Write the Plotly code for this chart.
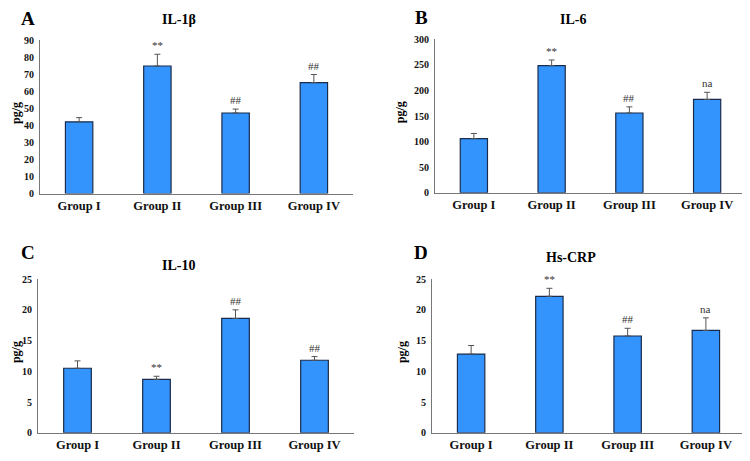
import plotly.graph_objects as go

groups = ["Group I", "Group II", "Group III", "Group IV"]

il1b_vals = [42.1, 74.9, 47.3, 65.1]
il1b_err = [2.5, 6.9, 2.3, 4.8]
il1b_marks = ["", "**", "##", "##"]

il6_vals = [106, 248.6, 156, 182.5]
il6_err = [10, 11, 12, 14]
il6_marks = ["", "**", "##", "na"]

il10_vals = [10.5, 8.7, 18.6, 11.8]
il10_err = [1.2, 0.5, 1.4, 0.6]
il10_marks = ["", "**", "##", "##"]

crp_vals = [12.8, 22.2, 15.75, 16.65]
crp_err = [1.4, 1.3, 1.25, 2.05]
crp_marks = ["", "**", "##", "na"]

panels = [
    dict(letter="A", title="IL-1β", vals=il1b_vals, err=il1b_err, marks=il1b_marks,
         yrange=[0, 90], dtick=10, xd=[40, 353], yd=[36, 193], ty=15, ly=14, yl=8),
    dict(letter="B", title="IL-6", vals=il6_vals, err=il6_err, marks=il6_marks,
         yrange=[0, 300], dtick=50, xd=[435, 746], yd=[35, 192.3], ty=15, ly=13, yl=392),
    dict(letter="C", title="IL-10", vals=il10_vals, err=il10_err, marks=il10_marks,
         yrange=[0, 25], dtick=5, xd=[38, 354], yd=[280.7, 438.3], ty=267, ly=253, yl=8),
    dict(letter="D", title="Hs-CRP", vals=crp_vals, err=crp_err, marks=crp_marks,
         yrange=[0, 25], dtick=5, xd=[432, 745], yd=[280.7, 438.3], ty=259, ly=253, yl=394),
]

# page has an 8px body margin; figure is sized so that it fills the 750x461 window
OFF = 8
W, H = 750 - OFF, 461 - OFF


def px_x(v):
    return (v - OFF) / W


def px_y(v):
    return 1 - (v - OFF) / H


FONT = "Liberation Serif, Times New Roman, serif"
BAR = "#3394FE"
EDGE = "#1B2B4B"

fig = go.Figure()
layout = dict(
    width=W, height=H, margin=dict(l=0, r=0, t=0, b=0),
    paper_bgcolor="white", plot_bgcolor="white", showlegend=False,
    font=dict(family=FONT, color="black"),
)
annotations = []

for i, p in enumerate(panels):
    n = "" if i == 0 else str(i + 1)
    xa, ya = "x" + n, "y" + n
    fig.add_trace(go.Bar(
        x=groups, y=p["vals"], xaxis=xa, yaxis=ya, width=0.35,
        marker=dict(color=BAR, line=dict(color=EDGE, width=1.2)),
        error_y=dict(type="data", array=p["err"], arrayminus=[0] * 4, symmetric=False,
                     color="#555555", thickness=1, width=3),
    ))
    xdom = [px_x(p["xd"][0]), px_x(p["xd"][1])]
    ydom = [px_y(p["yd"][1]), px_y(p["yd"][0])]
    layout["xaxis" + n] = dict(
        domain=xdom, anchor=ya, range=[-0.5, 3.5], showline=True, linecolor="#777777",
        linewidth=1, showgrid=False, ticks="", zeroline=False,
        tickfont=dict(family=FONT, size=12.5, color="#111111", weight="bold"),
    )
    layout["yaxis" + n] = dict(
        domain=ydom, anchor=xa, range=p["yrange"], dtick=p["dtick"], showline=True,
        linecolor="#777777", linewidth=1, showgrid=False, ticks="", zeroline=False,
        tickfont=dict(family=FONT, size=10, color="#111111", weight="bold"),
        ticklabelstandoff=3,
    )
    # significance marks
    for g, v, e, m in zip(groups, p["vals"], p["err"], p["marks"]):
        if m:
            annotations.append(dict(
                x=g, y=v + e, xref=xa, yref=ya, text=m, showarrow=False,
                yanchor="bottom", yshift=1,
                font=dict(family=FONT, size=11, color="#333333"),
            ))
    left = i % 2 == 0
    xc_px = (p["xd"][0] + p["xd"][1]) / 2
    # title
    annotations.append(dict(
        x=px_x(xc_px - 18), y=px_y(p["ty"]), xref="paper", yref="paper",
        text="<b>" + p["title"] + "</b>", showarrow=False,
        xanchor="center", yanchor="middle", font=dict(family=FONT, size=14, color="black"),
    ))
    # panel letter
    lx = 28 if left else 421
    annotations.append(dict(
        x=px_x(lx), y=px_y(p["ly"]), xref="paper", yref="paper",
        text="<b>" + p["letter"] + "</b>", showarrow=False,
        xanchor="center", yanchor="middle", font=dict(family=FONT, size=19, color="black"),
    ))
    # y-axis title
    annotations.append(dict(
        x=px_x(p["yl"]), y=px_y((p["yd"][0] + p["yd"][1]) / 2 - 4), xref="paper", yref="paper",
        text="<b>pg/g</b>", textangle=-90, showarrow=False, borderpad=0,
        xanchor="left", yanchor="middle", font=dict(family=FONT, size=12, color="black"),
    ))

layout["annotations"] = annotations
fig.update_layout(**layout)
fig.write_html("out.html")
